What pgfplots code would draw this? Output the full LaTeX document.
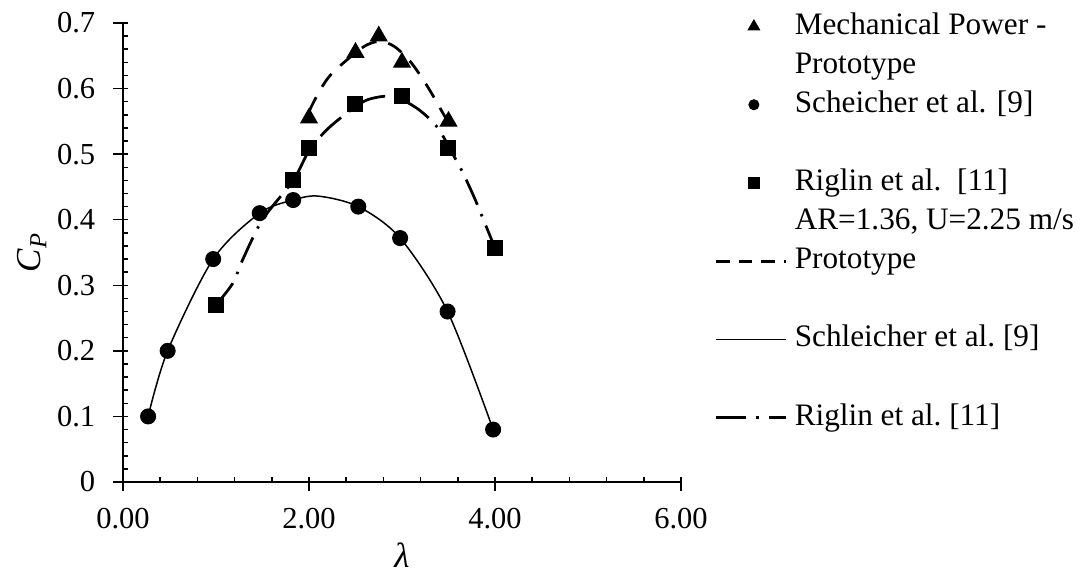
\documentclass[border=0pt]{standalone}
\usepackage{fontspec}
\setmainfont{Liberation Serif}
\usepackage{pgfplots}
\pgfplotsset{compat=1.18}
\begin{document}
\begin{tikzpicture}
\path[use as bounding box] (-49.2pt,-38pt) rectangle (385.2pt,192.8pt);
\begin{axis}[
  at={(0,0)}, anchor=south west,
  scale only axis, width=223.2pt, height=183.6pt,
  xmin=0, xmax=6, ymin=0, ymax=0.7,
  axis lines=left, axis line style={-, line width=0.7pt},
  xtick={0,2,4,6}, ytick={0,0.1,0.2,0.3,0.4,0.5,0.6,0.7},
  minor x tick num=4, minor y tick num=4,
  tick align=inside, major tick length=2pt, minor tick length=2pt,
  tick style={line width=0.6pt, black},
  extra x ticks={0,2,4,6}, extra x tick labels={},
  extra x tick style={tick align=outside, major tick length=3.4pt},
  extra y ticks={0,0.1,0.2,0.3,0.4,0.5,0.6,0.7}, extra y tick labels={},
  extra y tick style={tick align=outside, major tick length=4pt},
  /pgf/number format/assume math mode=true,
  xticklabel style={/pgf/number format/.cd, fixed, zerofill, precision=2, /tikz/.cd, yshift=-7pt},
  yticklabel style={/pgf/number format/.cd, fixed, precision=1, /tikz/.cd, xshift=-7.6pt},
  ticklabel style={font=\fontsize{12.2}{14}\selectfont},
  xlabel={\textit{λ}}, ylabel={\textit{C}\textsubscript{\textit{P}}},
  xlabel style={at={(axis description cs:0.5,-0.16)}, anchor=center, font=\fontsize{14}{16}\selectfont},
  ylabel style={at={(axis description cs:-0.163,0.5)}, anchor=center, font=\fontsize{14}{16}\selectfont},
  legend image code/.code={\draw[mark repeat=2,mark phase=2,#1] plot coordinates {(0pt,0pt)(15pt,0pt)(28pt,0pt)};},
  legend cell align=left,
  legend style={at={(axis description cs:1.061,1.025)}, anchor=north west, draw=none, fill=none,
    inner sep=0pt, outer sep=0pt, row sep=3.64pt, column sep=2.8pt,
    nodes={inner sep=0pt, text height=9pt, text depth=3pt, font=\fontsize{12.5}{15}\selectfont}},
]
% fitted lines
\addplot[forget plot, black, line width=1.1pt, dash pattern=on 6.4pt off 4.8pt, smooth] coordinates {
 (2.0,0.565) (2.12,0.598) (2.26,0.625) (2.58,0.663) (2.76,0.672) (2.92,0.664)
 (3.09,0.641) (3.23,0.613) (3.33,0.59) (3.43,0.565) (3.5,0.548)};
\addplot[forget plot, black, line width=0.6pt, smooth] coordinates {
 (0.27,0.10) (0.48,0.2) (0.97,0.34) (1.47,0.41) (1.83,0.43) (2.1,0.436)
 (2.53,0.42) (2.98,0.372) (3.49,0.26) (3.98,0.08)};
\addplot[forget plot, black, line width=1.1pt, dash pattern=on 11pt off 4pt on 1pt off 4pt, smooth] coordinates {
 (1.0,0.27) (1.18,0.303) (1.29,0.34) (1.5,0.40) (1.83,0.46) (2.0,0.505) (2.19,0.537)
 (2.42,0.564) (2.63,0.583) (2.9,0.588) (3.16,0.570) (3.38,0.541) (3.55,0.499)
 (3.65,0.473) (3.78,0.433) (3.89,0.395) (4.0,0.357)};
% data points
\addplot[forget plot, only marks, mark=triangle*, mark size=3.8pt, black] coordinates {
 (2.0,0.555) (2.5,0.655) (2.75,0.68) (3.0,0.64) (3.5,0.55)};
\addplot[forget plot, only marks, mark=*, mark size=3pt, black] coordinates {
 (0.27,0.10) (0.48,0.2) (0.97,0.34) (1.47,0.41) (1.83,0.43) (2.53,0.42) (2.98,0.372) (3.49,0.26) (3.98,0.08)};
\addplot[forget plot, only marks, mark=square*, mark size=3pt, black] coordinates {
 (1.0,0.27) (1.83,0.46) (2.0,0.509) (2.5,0.576) (3.0,0.589) (3.5,0.509) (4.0,0.357)};
% legend
\addlegendimage{only marks, mark=triangle*, mark size=2.6pt, black}
\addlegendentry{Mechanical Power -}
\addlegendimage{empty legend}
\addlegendentry{Prototype}
\addlegendimage{only marks, mark=*, mark size=2pt, black}
\addlegendentry{Scheicher et al. [9]}
\addlegendimage{empty legend}
\addlegendentry{}
\addlegendimage{only marks, mark=square*, mark size=2.1pt, black}
\addlegendentry{Riglin et al.\ \ [11]}
\addlegendimage{empty legend}
\addlegendentry{AR=1.36, U=2.25 m/s}
\addlegendimage{black, line width=1.1pt, dash pattern=on 5.4pt off 3.6pt}
\addlegendentry{Prototype}
\addlegendimage{empty legend}
\addlegendentry{}
\addlegendimage{black, line width=0.6pt}
\addlegendentry{Schleicher et al.\ [9]}
\addlegendimage{empty legend}
\addlegendentry{}
\addlegendimage{black, line width=1.1pt, dash pattern=on 12pt off 4pt on 1pt off 4pt}
\addlegendentry{Riglin et al.\ [11]}
\end{axis}
\end{tikzpicture}
\end{document}
